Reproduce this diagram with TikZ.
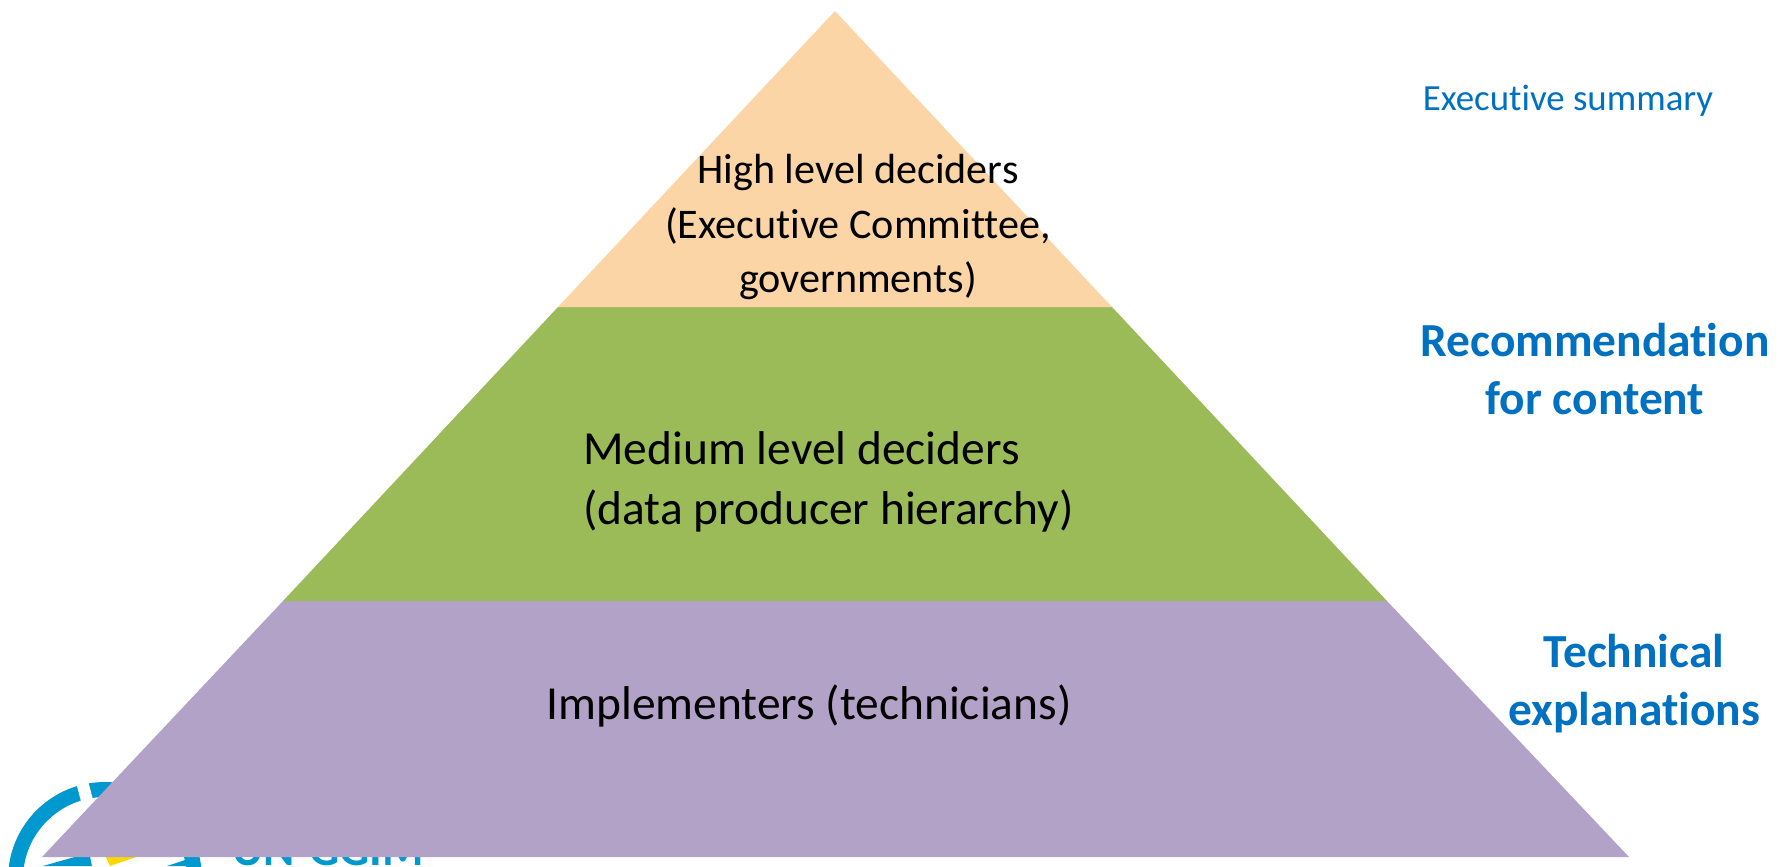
\documentclass[tikz,border=0pt]{standalone}
\usepackage{fontspec}
\setmainfont[Ligatures=NoCommon]{Carlito}
\usetikzlibrary{positioning}
\definecolor{peach}{RGB}{252,213,167}
\definecolor{leaf}{RGB}{155,187,89}
\definecolor{lilac}{RGB}{178,162,199}
\definecolor{titleblue}{RGB}{0,112,192}
\definecolor{logoblue}{RGB}{0,153,207}
\definecolor{logoyellow}{RGB}{255,215,0}
\tikzset{band/.style={inner sep=0pt,font=\fontsize{27}{34}\selectfont,text=black,align=center}}
\tikzset{side/.style={inner sep=0pt,font=\fontsize{27}{33}\selectfont\bfseries,text=titleblue,align=center}}

\begin{document}
\begin{tikzpicture}[x=0.02cm,y=-0.02cm]
\useasboundingbox (0,0) rectangle (1787,866);
\coordinate (apex) at (835,11);
\coordinate (topl) at (558,307);
\coordinate (topr) at (1112,307);
\coordinate (midl) at (283,601);
\coordinate (midr) at (1387,601);
\coordinate (lowl) at (42,857);
\coordinate (lowr) at (1629,857);
% logo behind the base
\draw[logoblue,line width=0.3cm] (105,879) circle (89.5);
\draw[white,line width=0.24cm] (79,770) -- (90,812);
\fill[logoyellow] (105,855) -- (142,855) -- (110,866) -- cycle;
\fill[logoblue] (43,866) -- (78,856) -- (90,856) -- (92,866) -- cycle;
\fill[logoblue] (167,866) -- (197,856) -- (197,866) -- cycle;
\node[inner sep=0pt,anchor=base west,font=\fontsize{27}{30}\selectfont\bfseries,text=logoblue] (logo) at (232,865) {UN-GGIM};
\fill[lilac] (midl) -- (midr) -- (lowr) -- (lowl) -- cycle;
\fill[leaf] (topl) -- (topr) -- (midr) -- (midl) -- cycle;
\fill[peach] (apex) -- (topr) -- (topl) -- cycle;
\node[band,font=\fontsize{24}{31}\selectfont] (high) at (858,227) {High level deciders\\(Executive Committee,\\governments)};
\node[band,align=left,anchor=west] (medium) at (583,482) {Medium level deciders\\(data producer hierarchy)};
\node[band] (impl) at (809,706) {Implementers (technicians)};
\node[inner sep=0pt,font=\fontsize{21}{25}\selectfont,text=titleblue] (summary) at (1568,101) {Executive summary};
\node[side] (content) at (1595,369) {Recommendation\\for content};
\node[side] (tech) at (1634,684) {Technical\\explanations};
\end{tikzpicture}
\end{document}
